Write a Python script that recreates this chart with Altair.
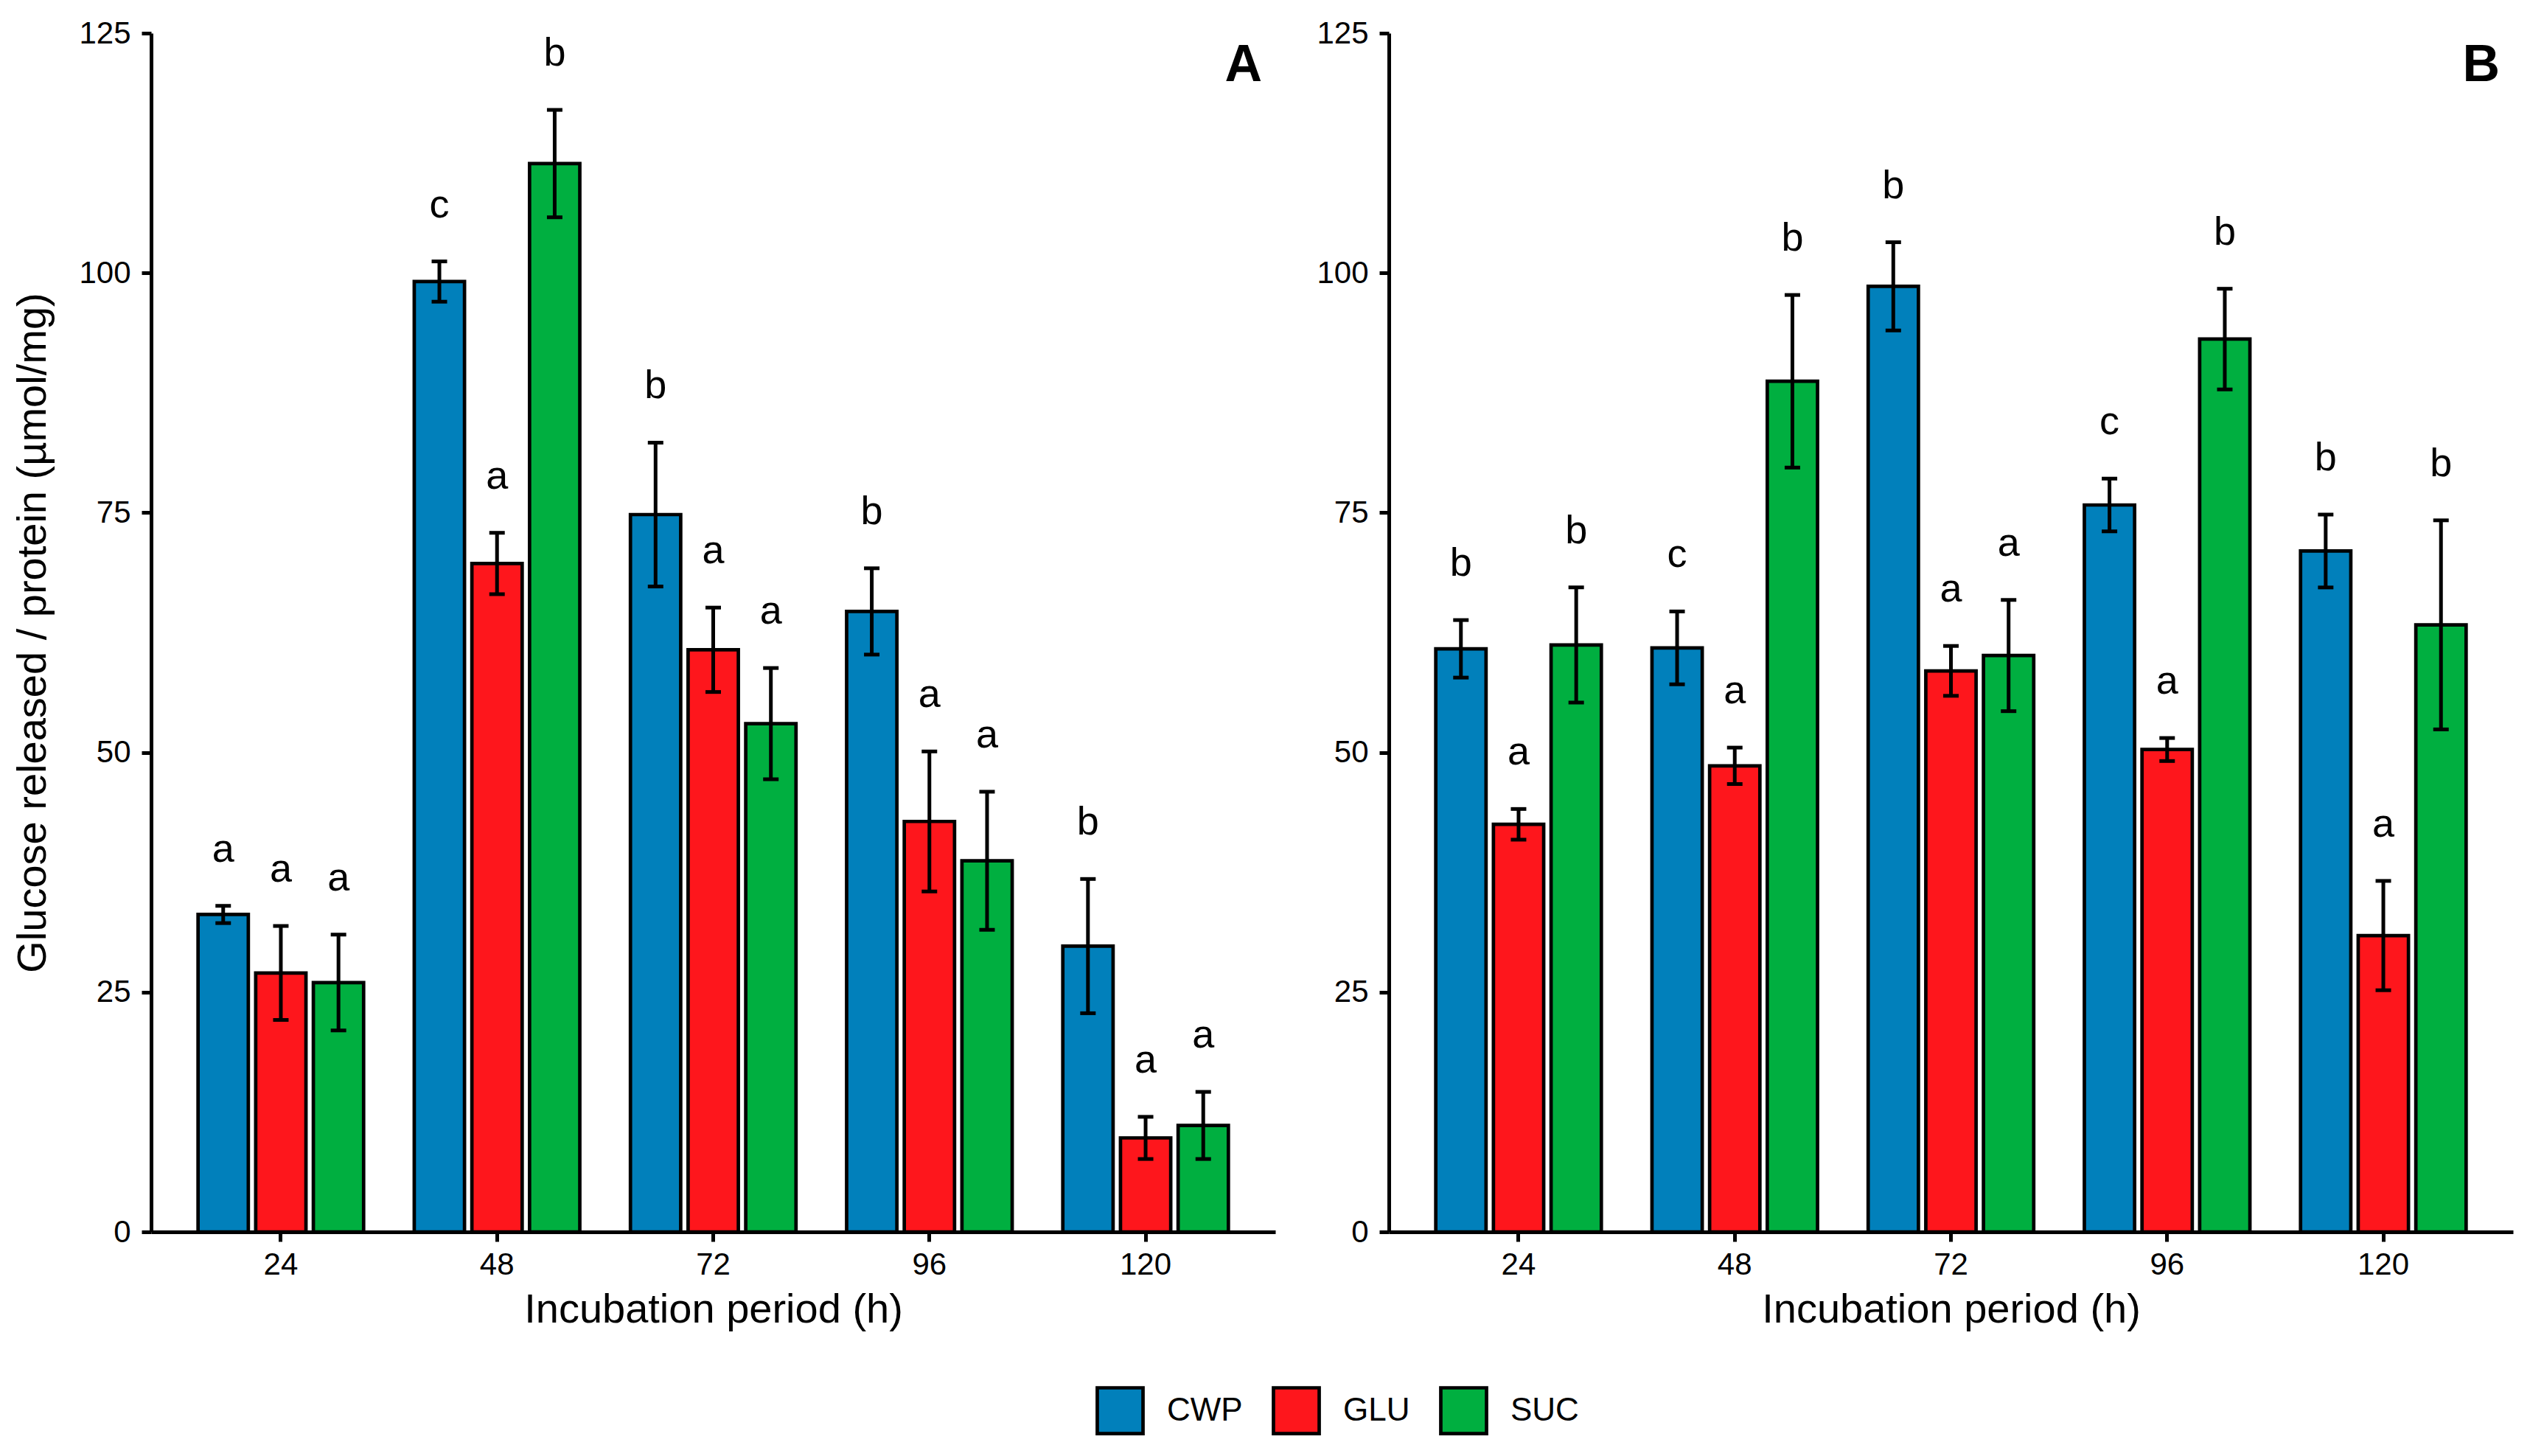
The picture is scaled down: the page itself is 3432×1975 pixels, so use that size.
import altair as alt
import pandas as pd

times = ["24", "48", "72", "96", "120"]
groups = ["CWP", "GLU", "SUC"]
colors = ["#0180BB", "#FE161C", "#00AF40"]

# Panel A
a_mean = {
    "CWP": [33.1, 99.1, 74.8, 64.7, 29.8],
    "GLU": [27.0, 69.7, 60.7, 42.8, 9.8],
    "SUC": [26.0, 111.4, 53.0, 38.7, 11.1],
}
a_sd = {
    "CWP": [0.9, 2.1, 7.5, 4.5, 7.0],
    "GLU": [4.9, 3.2, 4.4, 7.3, 2.2],
    "SUC": [5.0, 5.6, 5.8, 7.2, 3.5],
}
a_letter = {
    "CWP": ["a", "c", "b", "b", "b"],
    "GLU": ["a", "a", "a", "a", "a"],
    "SUC": ["a", "b", "a", "a", "a"],
}

# Panel B
b_mean = {
    "CWP": [60.8, 60.9, 98.6, 75.8, 71.0],
    "GLU": [42.5, 48.6, 58.5, 50.3, 30.9],
    "SUC": [61.2, 88.7, 60.1, 93.1, 63.3],
}
b_sd = {
    "CWP": [3.0, 3.8, 4.6, 2.75, 3.8],
    "GLU": [1.6, 1.9, 2.6, 1.2, 5.7],
    "SUC": [6.0, 9.0, 5.8, 5.25, 10.9],
}
b_letter = {
    "CWP": ["b", "c", "b", "c", "b"],
    "GLU": ["a", "a", "a", "a", "a"],
    "SUC": ["b", "b", "a", "b", "b"],
}

y_ticks = [0, 25, 50, 75, 100, 125]
FONT = "Liberation Sans"
W, H = 1525, 1626


def make_df(means, sds, letters):
    rows = []
    for g in groups:
        for i, t in enumerate(times):
            m, s = means[g][i], sds[g][i]
            rows.append({"time": t, "treat": g, "mean": m, "lower": m - s,
                         "upper": m + s, "letter": letters[g][i]})
    return pd.DataFrame(rows)


def panel(df, tag, ytitle):
    base = alt.Chart(df).encode(
        x=alt.X("time:N", sort=times,
                scale=alt.Scale(paddingInner=0.2, paddingOuter=0.2),
                axis=alt.Axis(title="Incubation period (h)", labelAngle=0,
                              labelPadding=11, titleY=78, titleBaseline="top")),
        xOffset=alt.XOffset("treat:N", sort=groups,
                            scale=alt.Scale(paddingInner=0.128, paddingOuter=0.064)),
    )
    if ytitle:
        yax = alt.Axis(values=y_ticks, labelPadding=15, title=ytitle,
                       titleX=-161, titleY=H / 2, titleAngle=270,
                       titleAlign="center", titleBaseline="middle")
    else:
        yax = alt.Axis(values=y_ticks, labelPadding=15, title=None)
    yscale = alt.Scale(domain=[0, 125], nice=False)

    bars = base.mark_bar(stroke="black", strokeWidth=4.7).encode(
        y=alt.Y("mean:Q", scale=yscale, axis=yax),
        color=alt.Color("treat:N", scale=alt.Scale(domain=groups, range=colors),
                        legend=alt.Legend(orient="none", legendX=1281, legendY=1835,
                                          direction="horizontal", title=None,
                                          symbolType="square", symbolSize=3850,
                                          symbolStrokeColor="black",
                                          symbolStrokeWidth=4.7, symbolOpacity=1,
                                          labelFontSize=44, labelFont=FONT,
                                          labelColor="black", labelOffset=30,
                                          columnPadding=32, padding=0)),
    )
    rules = base.mark_rule(color="black", strokeWidth=5).encode(
        y=alt.Y("lower:Q", scale=yscale, axis=yax), y2="upper:Q")
    cap_lo = base.mark_tick(color="black", size=21, thickness=5, opacity=1).encode(
        y=alt.Y("lower:Q", scale=yscale, axis=yax))
    cap_hi = base.mark_tick(color="black", size=21, thickness=5, opacity=1).encode(
        y=alt.Y("upper:Q", scale=yscale, axis=yax))
    letters = base.mark_text(fontSize=54, font=FONT, dy=-60, baseline="alphabetic",
                             color="black").encode(
        y=alt.Y("upper:Q", scale=yscale, axis=yax), text="letter:N")
    tag_mark = alt.Chart(pd.DataFrame({"t": [tag]})).mark_text(
        fontSize=70, fontWeight="bold", font=FONT, align="right", baseline="top",
        color="black").encode(text="t:N", x=alt.value(W - 18), y=alt.value(10))
    return alt.layer(bars, rules, cap_lo, cap_hi, letters, tag_mark).properties(
        width=W, height=H)


pA = panel(make_df(a_mean, a_sd, a_letter), "A",
           "Glucose released / protein (\u00b5mol/mg)")
pB = panel(make_df(b_mean, b_sd, b_letter), "B", None)

chart = alt.hconcat(pA, pB, spacing=154, bounds="flush").properties(
    padding={"left": 8, "top": 16, "right": 5, "bottom": 5},
    background="white",
).configure_view(stroke=None).configure_axis(
    domainColor="black", domainWidth=5, tickColor="black", tickWidth=5,
    tickSize=13, labelFont=FONT, labelFontSize=42, labelColor="black",
    titleFont=FONT, titleFontSize=56, titleFontWeight="normal",
    titleColor="black", grid=False,
)

chart.save("out.html", embed_options={"renderer": "svg", "actions": False})
